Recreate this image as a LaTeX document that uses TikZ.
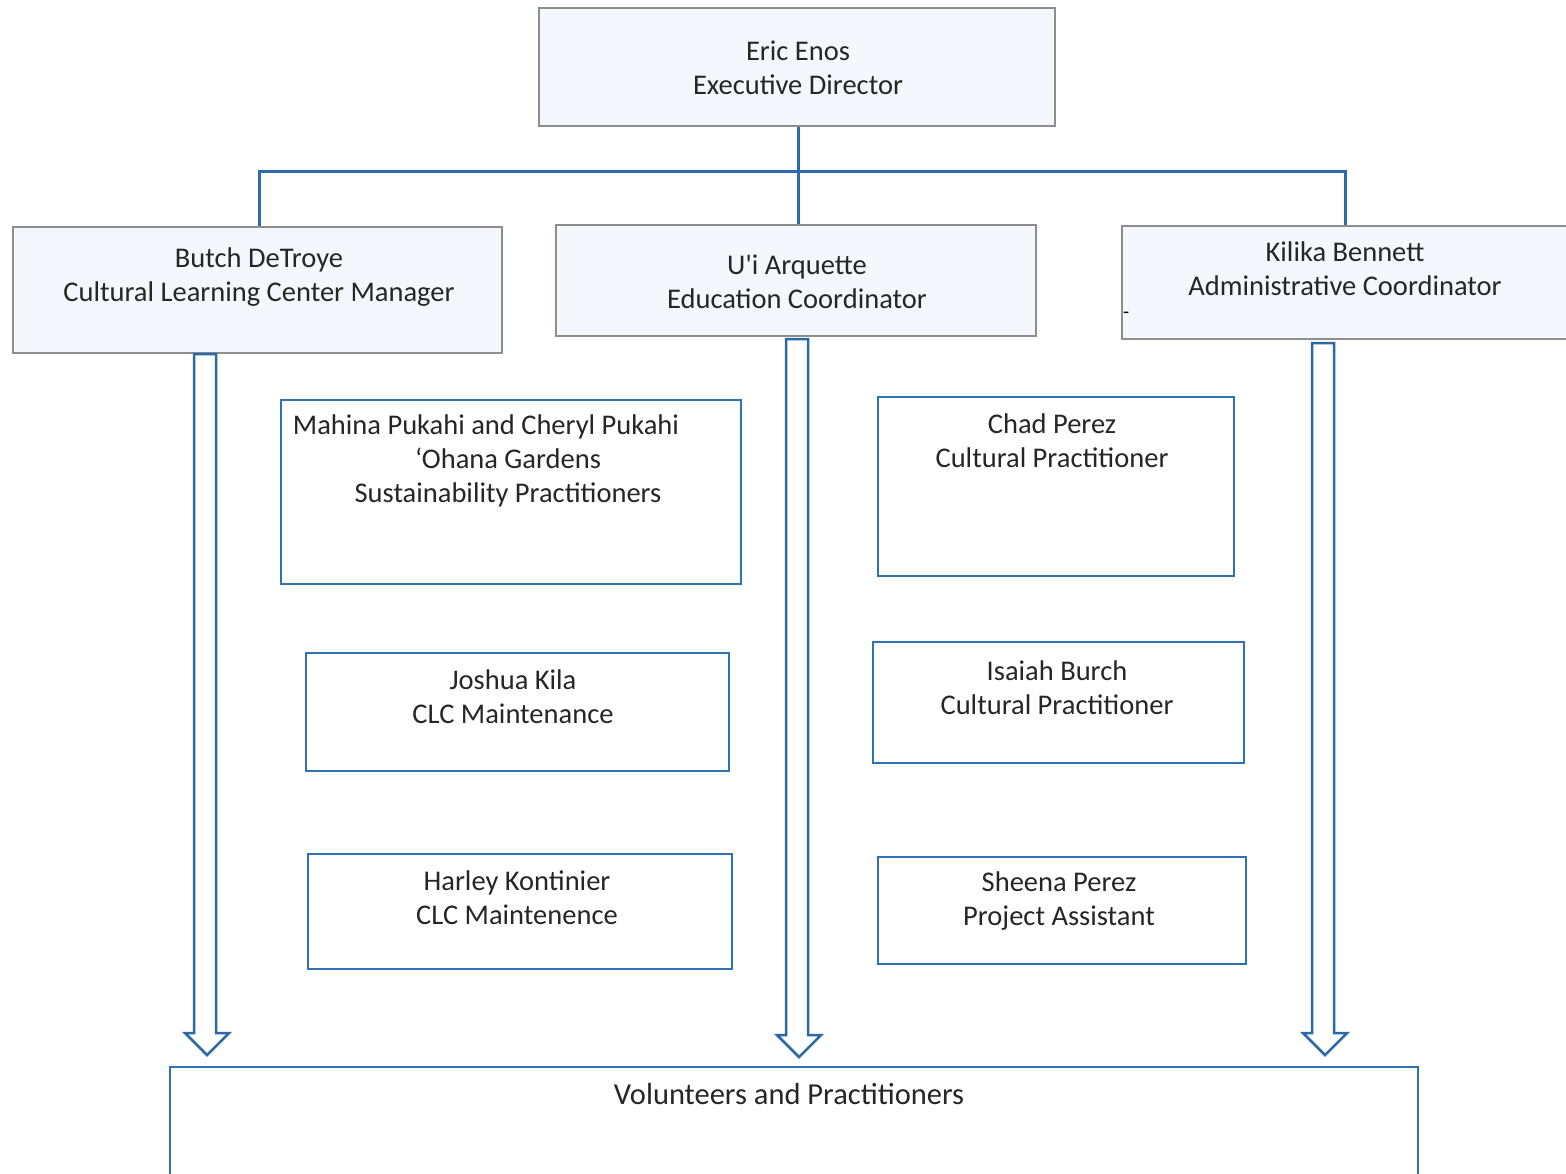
\documentclass[tikz,border=0pt]{standalone}
\usepackage{fontspec}
\setmainfont{Carlito}
\usetikzlibrary{calc}
\definecolor{boxblue}{HTML}{2E74B5}
\definecolor{arrblue}{HTML}{2A68A8}
\definecolor{linkblue}{HTML}{2B6CB0}
\definecolor{graybd}{HTML}{8E8E8E}
\definecolor{palefill}{HTML}{F4F8FC}
\newcommand{\straightquote}{{\XeTeXglyph\XeTeXcharglyph"0027\relax}}
\tikzset{
  topbox/.style={draw=graybd, line width=1.5pt, fill=palefill, rectangle, inner sep=0pt},
  staffbox/.style={draw=boxblue, line width=2.5pt, fill=white, rectangle, inner sep=0pt},
  txt/.style={align=center, inner sep=0pt, font=\fontsize{28.5}{34}\selectfont, text=black!85},
  link/.style={draw=linkblue, line width=3pt},
  blockarrow/.style={draw=arrblue, line width=2.5pt, fill=white, line join=miter}
}
\newcommand{\boxat}[6]{% style, name, x1, y1, x2, y2
  \node[#1, minimum width={#5-#3}, minimum height={#6-#4}] (#2) at ({(#3+#5)/2},{(#4+#6)/2}) {};}
\begin{document}
\begin{tikzpicture}[x=1pt,y=-1pt]
\useasboundingbox (0,0) rectangle (1566,1173);
\clip (0,0) rectangle (1566,1173);
\fill[white] (0,0) rectangle (1566,1173);

% top level
\boxat{topbox}{eric}{539}{8}{1055}{126}
\node[txt] (ericT) at (798,68) {Eric Enos\\Executive Director};

% managers
\boxat{topbox}{butch}{13}{227}{502}{353}
\node[txt] (butchT) at (259,277) {Butch DeTroye\\Cultural Learning Center Manager};
\boxat{topbox}{ui}{556}{225}{1036}{336}
\node[txt] (uiT) at (797,282) {U\straightquote i Arquette\\Education Coordinator};
\boxat{topbox}{kilika}{1122}{226}{1580}{339}
\node[txt] (kilikaT) at (1345,269) {Kilika Bennett\\Administrative Coordinator};
\node[inner sep=0pt, font=\fontsize{20}{22}\selectfont, anchor=west] (dash) at (1123,315) {-};

% connectors
\coordinate (bus) at (798,171);
\draw[link] (eric.south -| bus) -- (bus);
\draw[link] (butch.north -| 259,0) |- (bus);
\draw[link] (ui.north -| bus) -- (bus);
\draw[link] (kilika.north -| 1345,0) |- (bus);

% staff boxes
\boxat{staffbox}{mahina}{281}{400}{741}{584}
\node[txt] (mahinaT) at (508,461) {Mahina Pukahi and Cheryl Pukahi\hspace*{44pt}\\{\textquoteleft}Ohana Gardens\\Sustainability Practitioners};
\boxat{staffbox}{chad}{878}{397}{1234}{576}
\node[txt] (chadT) at (1052,441) {Chad Perez\\Cultural Practitioner};
\boxat{staffbox}{joshua}{306}{653}{729}{771}
\node[txt] (joshuaT) at (513,697) {Joshua Kila\\CLC Maintenance};
\boxat{staffbox}{isaiah}{873}{642}{1244}{763}
\node[txt] (isaiahT) at (1057,688) {Isaiah Burch\\Cultural Practitioner};
\boxat{staffbox}{harley}{308}{854}{732}{969}
\node[txt] (harleyT) at (517,898) {Harley Kontinier\\CLC Maintenence};
\boxat{staffbox}{sheena}{878}{857}{1246}{964}
\node[txt] (sheenaT) at (1059,901) {Sheena Perez\\Project Assistant};

% volunteers
\boxat{staffbox}{vol}{170}{1067}{1418}{1200}
\node[txt, font=\fontsize{30.5}{34}\selectfont] (volT) at (789,1094) {Volunteers and Practitioners};

% hollow block arrows
\coordinate (a1s) at (205,354);  \coordinate (a1e) at (207,1055);
\coordinate (a2s) at (797,339);  \coordinate (a2e) at (799,1057);
\coordinate (a3s) at (1323,343); \coordinate (a3e) at (1325,1055);
\foreach \s/\e in {a1s/a1e, a2s/a2e, a3s/a3e}{
  \draw[blockarrow] ($(\s)+(-11,0)$) -- ($(\s |- \e)+(-11,-22)$) -- ($(\e)+(-22,-22)$) -- (\e)
    -- ($(\e)+(22,-22)$) -- ($(\s |- \e)+(11,-22)$) -- ($(\s)+(11,0)$) -- cycle;
}
\end{tikzpicture}
\end{document}
